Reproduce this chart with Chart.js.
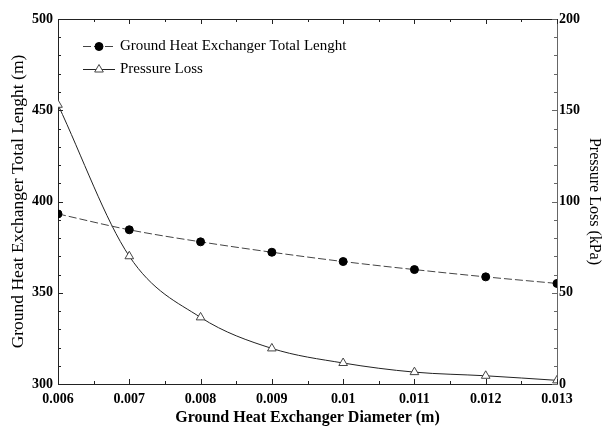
<html>
<head>
    <meta charset="UTF-8">
    <script src="https://cdn.jsdelivr.net/npm/chart.js"></script>
    <title>Ground Heat Exchanger</title>
    <style>body { margin: 0; background: #fff; }</style>
</head>
<body>
    <canvas id="chart" width="604" height="427"></canvas>
    <script>
        // data
        const diameters = [0.006, 0.007, 0.008, 0.009, 0.010, 0.011, 0.012, 0.013];
        const totalLength = [393.2, 384.5, 377.9, 372.2, 367.1, 362.7, 358.7, 355.1];
        const pressureLoss = [153, 70, 36.5, 19.5, 11.5, 6.5, 4.5, 2];
        const xTicks = [0.006, 0.007, 0.008, 0.009, 0.010, 0.011, 0.012, 0.013];
        const xLabels = ['0.006', '0.007', '0.008', '0.009', '0.01', '0.011', '0.012', '0.013'];
        const leftTicks = [300, 350, 400, 450, 500];
        const rightTicks = [0, 50, 100, 150, 200];
        const seriesNames = ['Ground Heat Exchanger Total Lenght', 'Pressure Loss'];

        const serif = "'Liberation Serif', 'Times New Roman', serif";

        // frame, inward ticks on all four sides, and the legend
        const framePlugin = {
            id: 'frame',
            afterDraw(chart) {
                const ctx = chart.ctx;
                const a = chart.chartArea;
                const sx = chart.scales.x, sy = chart.scales.y, sy1 = chart.scales.y1;
                ctx.save();
                ctx.strokeStyle = '#222';
                ctx.lineWidth = 1;
                ctx.beginPath();
                ctx.moveTo(a.left, a.top + 0.5);
                ctx.lineTo(a.right, a.top + 0.5);
                ctx.stroke();

                ctx.beginPath();
                for (let v = 0.006; v <= 0.01301; v += 0.0005) {
                    const major = Math.abs(v * 1000 - Math.round(v * 1000)) < 1e-6;
                    const len = major ? 5 : 3;
                    const px = Math.round(sx.getPixelForValue(v)) + 0.5;
                    ctx.moveTo(px, a.bottom);
                    ctx.lineTo(px, a.bottom - len);
                    ctx.moveTo(px, a.top);
                    ctx.lineTo(px, a.top + len);
                }
                for (let v = 300; v <= 500; v += 10) {
                    const len = v % 50 === 0 ? 5 : 3;
                    const py = Math.round(sy.getPixelForValue(v)) + 0.5;
                    ctx.moveTo(a.left, py);
                    ctx.lineTo(a.left + len, py);
                }
                ctx.stroke();
                ctx.strokeStyle = '#666';
                ctx.beginPath();
                for (let v = 0; v <= 200; v += 10) {
                    const len = v % 50 === 0 ? 5 : 3;
                    const py = Math.round(sy1.getPixelForValue(v)) + 0.5;
                    ctx.moveTo(a.right, py);
                    ctx.lineTo(a.right - len, py);
                }
                ctx.stroke();

                // legend
                const ds = chart.data.datasets;
                ctx.font = '15px ' + serif;
                ctx.textBaseline = 'middle';
                ctx.fillStyle = '#000';
                [46, 69].forEach((y, i) => {
                    const d = ds[i];
                    ctx.strokeStyle = d.borderColor;
                    ctx.setLineDash(d.borderDash || []);
                    ctx.beginPath();
                    ctx.moveTo(83, y + 0.5);
                    ctx.lineTo(115, y + 0.5);
                    ctx.stroke();
                    ctx.setLineDash([]);
                    ctx.fillText(seriesNames[i], 120, y);

                    ctx.fillStyle = d.pointBackgroundColor;
                    ctx.strokeStyle = d.pointBorderColor;
                    Chart.helpers.drawPoint(ctx, {
                        pointStyle: d.pointStyle, radius: d.pointRadius, borderWidth: 1
                    }, 99, y + 0.5);
                    ctx.fillStyle = '#000';
                });
                ctx.restore();
            }
        };

        const config = {
            type: 'line',
            data: {
                datasets: [{
                    label: seriesNames[0],
                    data: diameters.map((d, i) => ({ x: d, y: totalLength[i] })),
                    yAxisID: 'y',
                    borderColor: '#444',
                    borderWidth: 1,
                    borderDash: [8, 3],
                    pointStyle: 'circle',
                    pointRadius: 4,
                    pointBackgroundColor: '#000',
                    pointBorderColor: '#000',
                    cubicInterpolationMode: 'monotone',
                    clip: 0
                }, {
                    label: seriesNames[1],
                    data: diameters.map((d, i) => ({ x: d, y: pressureLoss[i] })),
                    yAxisID: 'y1',
                    borderColor: '#222',
                    borderWidth: 1,
                    pointStyle: 'triangle',
                    pointRadius: 5,
                    pointBackgroundColor: '#fff',
                    pointBorderColor: '#444',
                    cubicInterpolationMode: 'monotone',
                    clip: 0
                }]
            },
            options: {
                responsive: false,
                animation: false,
                layout: { padding: { top: 19, left: 0, right: 0, bottom: 0 } },
                plugins: { legend: { display: false }, tooltip: { enabled: false } },
                scales: {
                    x: {
                        type: 'linear',
                        position: 'bottom',
                        min: 0.006,
                        max: 0.013,
                        afterBuildTicks: s => { s.ticks = xTicks.map(v => ({ value: v })); },
                        afterFit: s => { s.height = 43; },
                        grid: { display: false, drawTicks: false, tickLength: 0 },
                        border: { display: true, color: '#222' },
                        ticks: {
                            color: '#000',
                            padding: 7,
                            maxRotation: 0,
                            font: { family: serif, size: 14, weight: 'bold' },
                            callback: (v, i) => xLabels[i]
                        },
                        title: {
                            display: true,
                            text: 'Ground Heat Exchanger Diameter (m)',
                            color: '#000',
                            padding: 0,
                            font: { family: serif, size: 16, weight: 'bold' }
                        }
                    },
                    y: {
                        position: 'left',
                        min: 300,
                        max: 500,
                        afterBuildTicks: s => { s.ticks = leftTicks.map(v => ({ value: v })); },
                        afterFit: s => { s.width = 58; },
                        grid: { display: false, drawTicks: false, tickLength: 0 },
                        border: { display: true, color: '#222' },
                        ticks: {
                            color: '#000',
                            padding: 5,
                            font: { family: serif, size: 14, weight: 'bold' }
                        },
                        title: {
                            display: true,
                            text: 'Ground Heat Exchanger Total Lenght (m)',
                            color: '#000',
                            padding: { top: 8, bottom: 0 },
                            font: { family: serif, size: 17.5 }
                        }
                    },
                    y1: {
                        position: 'right',
                        min: 0,
                        max: 200,
                        afterBuildTicks: s => { s.ticks = rightTicks.map(v => ({ value: v })); },
                        afterFit: s => { s.width = 47; },
                        grid: { display: false, drawTicks: false, tickLength: 0 },
                        border: { display: true, color: '#666' },
                        ticks: {
                            color: '#000',
                            padding: 2,
                            font: { family: serif, size: 14, weight: 'bold' }
                        },
                        title: {
                            display: true,
                            text: 'Pressure Loss (kPa)',
                            color: '#000',
                            padding: { top: 0, bottom: 0 },
                            font: { family: serif, size: 16 }
                        }
                    }
                }
            },
            plugins: [framePlugin]
        };

        const myChart = new Chart(document.getElementById('chart'), config);
    </script>
</body>
</html>
